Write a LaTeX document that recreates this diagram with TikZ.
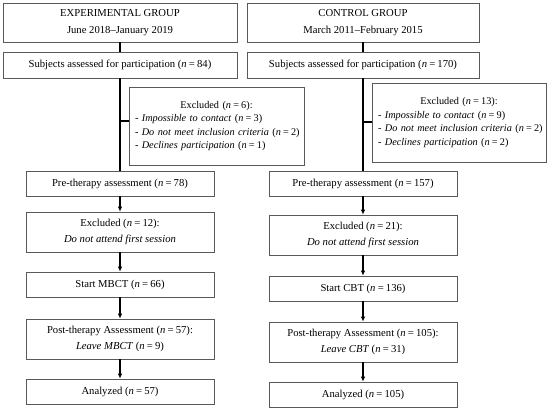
\documentclass[tikz,border=0pt]{standalone}
\usepackage{fontspec}
\setmainfont{Liberation Serif}
\usetikzlibrary{arrows.meta}
\newcommand{\nval}[1]{\textit{n}\kern2.2pt=\kern2.2pt#1}
\begin{document}
\begin{tikzpicture}[x=1bp,y=-1bp,
  box/.style={draw=black!65, line width=0.6pt, inner sep=0pt, align=center,
    font=\fontsize{10.7}{16.5}\selectfont},
  exbox/.style={draw=black!65, line width=0.6pt, inner xsep=6bp, inner ysep=0pt,
    align=left, font=\fontsize{10.3}{13.7}\selectfont},
  conn/.style={line width=1.1pt, black},
  arr/.style={conn, -{Latex[length=5bp,width=4.5bp]}}
]
\useasboundingbox (0,0) rectangle (550,410);
% left column
\node[box, minimum width=234bp, minimum height=39bp] (hL) at (120,22.5)
  {EXPERIMENTAL GROUP\\June 2018–January 2019};
\node[box, minimum width=234bp, minimum height=26bp] (sL) at (120,65)
  {Subjects assessed for participation (\nval{84})};
\node[exbox, minimum width=175bp, minimum height=78bp, text width=163bp] (xL) at (216.5,126)
  {\makebox[\linewidth]{Excluded (\nval{6}):}\\
   \mbox{- \textit{Impossible to contact} (\nval{3})}\\
   \mbox{- \textit{Do not meet inclusion criteria} (\nval{2})}\\
   \mbox{- \textit{Declines participation} (\nval{1})}};
\node[box, minimum width=188bp, minimum height=25bp] (pL) at (120,183.5)
  {Pre-therapy assessment (\nval{78})};
\node[box, minimum width=188bp, minimum height=40bp] (eL) at (120,232)
  {Excluded (\nval{12}):\\\textit{Do not attend first session}};
\node[box, minimum width=188bp, minimum height=25bp] (tL) at (120,284.5)
  {Start MBCT (\nval{66})};
\node[box, minimum width=188bp, minimum height=40bp] (qL) at (120,339)
  {Post-therapy Assessment (\nval{57}):\\\textit{Leave MBCT} (\nval{9})};
\node[box, minimum width=188bp, minimum height=25bp] (aL) at (120,391.5)
  {Analyzed (\nval{57})};
% right column
\node[box, minimum width=232bp, minimum height=39bp] (hR) at (363,22.5)
  {CONTROL GROUP\\March 2011–February 2015};
\node[box, minimum width=232bp, minimum height=26bp] (sR) at (363,65)
  {Subjects assessed for participation (\nval{170})};
\node[exbox, minimum width=174bp, minimum height=79bp, text width=162bp] (xR) at (459,122.5)
  {\makebox[\linewidth]{Excluded (\nval{13}):}\\
   \mbox{- \textit{Impossible to contact} (\nval{9})}\\
   \mbox{- \textit{Do not meet inclusion criteria} (\nval{2})}\\
   \mbox{- \textit{Declines participation} (\nval{2})}};
\node[box, minimum width=188bp, minimum height=25bp] (pR) at (363,183.5)
  {Pre-therapy assessment (\nval{157})};
\node[box, minimum width=188bp, minimum height=40bp] (eR) at (363,235)
  {Excluded (\nval{21}):\\\textit{Do not attend first session}};
\node[box, minimum width=188bp, minimum height=25bp] (tR) at (363,288.5)
  {Start CBT (\nval{136})};
\node[box, minimum width=188bp, minimum height=40bp] (qR) at (363,342)
  {Post-therapy Assessment (\nval{105}):\\\textit{Leave CBT} (\nval{31})};
\node[box, minimum width=188bp, minimum height=25bp] (aR) at (363,394.5)
  {Analyzed (\nval{105})};
% connectors left
\draw[conn] (hL) -- (sL);
\draw[conn] (sL) -- (pL);
\coordinate (bL) at (120,121);
\draw[conn] (bL) -- (bL -| xL.west);
\draw[arr] (pL) -- (eL);
\draw[arr] (eL) -- (tL);
\draw[arr] (tL) -- (qL);
\draw[arr] (qL) -- (aL);
% connectors right
\draw[conn] (hR) -- (sR);
\draw[conn] (sR) -- (pR);
\coordinate (bR) at (363,122);
\draw[conn] (bR) -- (bR -| xR.west);
\draw[arr] (pR) -- (eR);
\draw[arr] (eR) -- (tR);
\draw[arr] (tR) -- (qR);
\draw[arr] (qR) -- (aR);
\end{tikzpicture}
\end{document}
